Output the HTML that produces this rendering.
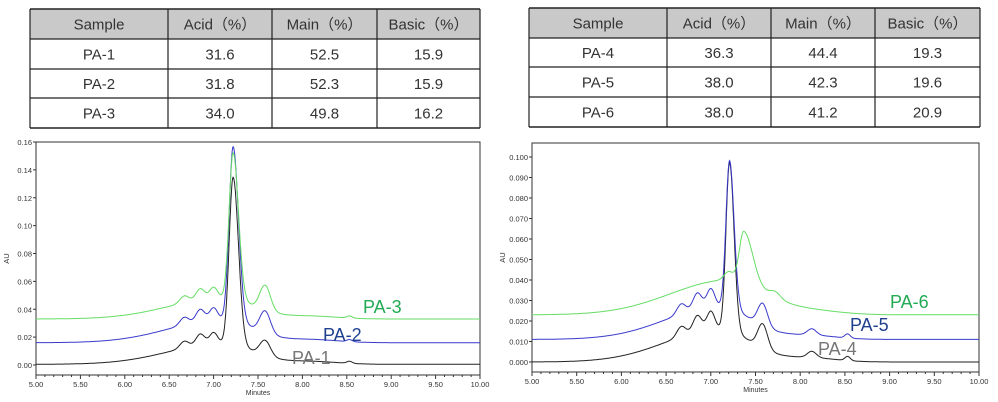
<!DOCTYPE html>
<html><head><meta charset="utf-8"><style>
html,body{margin:0;padding:0;background:#fff;width:998px;height:402px;overflow:hidden}
svg{display:block}
</style></head><body>
<svg id="s" width="998" height="402" xmlns="http://www.w3.org/2000/svg" font-family="Liberation Sans, sans-serif"></svg>
<script>
const S=document.getElementById('s');let h='';
function table(x0,cols,rows,data){
 const cx=[x0,...cols];
 h+=`<rect x="${x0}" y="${rows[0]}" width="${cx[4]-x0}" height="${rows[1]-rows[0]}" fill="#c9c9c9"/>`;
 for(let r=0;r<4;r++)for(let c=0;c<4;c++){
  h+=`<text x="${(cx[c]+cx[c+1])/2}" y="${(rows[r]+rows[r+1])/2+5.5}" text-anchor="middle" font-size="15" fill="#333">${data[r][c]}</text>`;}
 rows.forEach(y=>h+=`<line x1="${x0}" x2="${cx[4]}" y1="${y}" y2="${y}" stroke="#222" stroke-width="${y==rows[0]||y==rows[4]?1.6:1.2}"/>`);
 cx.forEach(x=>h+=`<line x1="${x}" x2="${x}" y1="${rows[0]}" y2="${rows[4]}" stroke="#222" stroke-width="1.2"/>`);
}
const hd=['Sample','Acid（%）','Main（%）','Basic（%）'];
table(30,[168,272,377,480],[9,39,69,98,128],[hd,['PA-1','31.6','52.5','15.9'],['PA-2','31.8','52.3','15.9'],['PA-3','34.0','49.8','16.2']]);
table(529,[667,771,875,980],[8,38,67,97,127],[hd,['PA-4','36.3','44.4','19.3'],['PA-5','38.0','42.3','19.6'],['PA-6','38.0','41.2','20.9']]);
function g(x,c,s,a){return a*Math.exp(-0.5*((x-c)/s)**2)}
function ag(x,c,sl,sr,a){return g(x,c,x<c?sl:sr,a)}
function chart(X0,X1,Ytop,Ybot,Y0,Yv,vmax,step,dec,fns,labels){
 h+=`<rect x="${X0}" y="${Ytop}" width="${X1-X0}" height="${Ybot-Ytop}" fill="none" stroke="#333" stroke-width="1"/>`;
 const sx=x=>X0+(x-5)/5*(X1-X0), sy=v=>Y0-(v/vmax)*(Y0-Yv);
 for(let v=0;v<=vmax+1e-9;v+=step){const y=sy(v);
  h+=`<line x1="${X0-3}" x2="${X0}" y1="${y}" y2="${y}" stroke="#333"/><text x="${X0-4}" y="${y+3}" text-anchor="end" font-size="7.5" fill="#333">${v.toFixed(dec)}</text>`;}
 for(let i=0;i<=50;i++){const x=X0+i*(X1-X0)/50;h+=`<line x1="${x}" x2="${x}" y1="${Ybot}" y2="${Ybot+(i%5?2:4)}" stroke="#333"/>`;
  if(i%5==0)h+=`<text x="${x}" y="${Ybot+12}" text-anchor="middle" font-size="7.5" fill="#333">${(5+i/10).toFixed(2)}</text>`;}
 h+=`<text x="${(X0+X1)/2}" y="${Ybot+20}" text-anchor="middle" font-size="7" fill="#333">Minutes</text>`;
 h+=`<text transform="translate(${X0-27},${(Ytop+Ybot)/2}) rotate(-90)" text-anchor="middle" font-size="7.5" fill="#333">AU</text>`;
 fns.forEach(([f,col])=>{let p='';for(let x=5;x<=10.0001;x+=0.005){p+=(p?'L':'M')+sx(x).toFixed(1)+' '+sy(f(x)).toFixed(1);}
  h+=`<path d="${p}" fill="none" stroke="${col}" stroke-width="1"/>`;});
 labels.forEach(([t,x,y,c])=>h+=`<text x="${x}" y="${y}" font-size="18" fill="${c}">${t}</text>`);
}
function base1(x,off,k,m,b){return off+ag(x,7.1,0.6,0.35,0.015*k)+g(x,6.67,0.05,0.005*k)+g(x,6.85,0.05,0.008*k)+g(x,7.0,0.045,0.008*k)+ag(x,7.22,0.045,0.06,m)+g(x,7.58,0.06,b)+g(x,8.1,0.3,0.002*k)+g(x,8.53,0.03,0.0015)}
chart(36,480,142,375,365,142,0.16,0.02,2,[
 [x=>base1(x,0.0005,1,0.12,0.011),'#222'],
 [x=>base1(x,0.016,1.1,0.125,0.016),'#3a3acc'],
 [x=>base1(x,0.033,1.0,0.105,0.018),'#66dd66']],
 [['PA-3',363,313,'#22aa55'],['PA-2',323,341,'#1f3f8f'],['PA-1',292,364,'#777']]);
function b2(x,off,k,m,b){return off+ag(x,7.1,0.6,0.35,0.016*k)+g(x,6.67,0.05,0.005*k)+g(x,6.85,0.05,0.008*k)+g(x,7.0,0.045,0.009*k)+ag(x,7.21,0.04,0.05,m)+g(x,7.58,0.055,b)+g(x,8.13,0.05,0.003)+g(x,8.53,0.03,0.002)+g(x,8.1,0.3,0.002*k)}
chart(532,979,143,372,362,157,0.1,0.01,3,[
 [x=>b2(x,0,1,0.082,0.012),'#222'],
 [x=>b2(x,0.011,1,0.072,0.011),'#3a3acc'],
 [x=>0.023+ag(x,7.2,0.65,0.4,0.017)+g(x,7.2,0.05,0.004)+ag(x,7.37,0.05,0.1,0.025)+g(x,7.72,0.06,0.003)+g(x,8.1,0.35,0.002),'#66dd66']],
 [['PA-6',890,308,'#22aa55'],['PA-5',850,331,'#1f3f8f'],['PA-4',818,355,'#777']]);
S.innerHTML=h;
</script>
</body></html>
